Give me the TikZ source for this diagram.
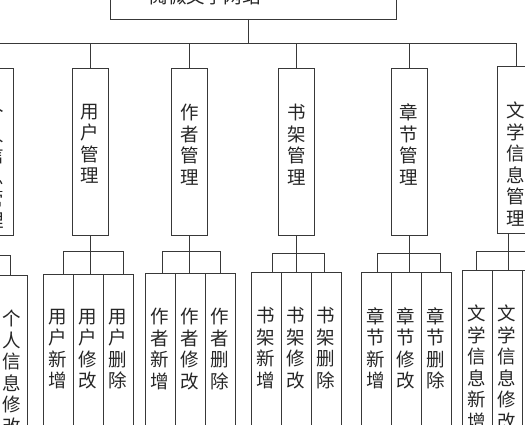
\documentclass[tikz,border=0pt]{standalone}
\usepackage{fontspec}
\newfontfamily\cjk{Noto Sans CJK SC}
\usetikzlibrary{positioning}
\tikzset
{
	link/.style     = {draw=black!78, line width=0.9pt},
	vtext/.style    = {anchor=north, inner sep=0pt, align=center, font=\cjk\fontsize{18.5}{21.5}\selectfont, text=black!85},
	rootnode/.style = {link, anchor=south, outer sep=0pt, minimum width=286pt, minimum height=60pt},
	modnode/.style  = {link, anchor=north, outer sep=0pt, minimum width=36pt, minimum height=167pt, label={[vtext, yshift=-36pt]north:#1}},
	funcnode/.style = {link, anchor=north, outer sep=0pt, minimum width=30pt, minimum height=160pt, label={[vtext, yshift=-35pt]north:#1}}
}

\begin{document}
\begin{tikzpicture}[x=1pt, y=1pt, node distance=0pt]
\useasboundingbox (0,0) rectangle (525,-425);
\clip (0,0) rectangle (525,-425);
% top: site
\node[rootnode] (root) at (253,-19) {};
\node[vtext, anchor=center] (title) at (205,4) {阅微文学网站};
% modules
\node[modnode={个\\人\\信\\息\\管\\理}] (m0) at (-5,-68) {};
\node[modnode={用\\户\\管\\理}] (m1) at (90,-68) {};
\node[modnode={作\\者\\管\\理}] (m2) at (189.5,-68) {};
\node[modnode={书\\架\\管\\理}] (m3) at (296.5,-68) {};
\node[modnode={章\\节\\管\\理}] (m4) at (409,-68) {};
\node[modnode={文\\学\\信\\息\\管\\理}, minimum width=38pt] (m5) at (516,-66) {};
\draw[link] ([xshift=-5pt]root.south) -- ++(0,-24) coordinate (bar);
\foreach \m in {m0,m1,m2,m3,m4,m5}
	\draw[link] (bar) -| (\m.north);
% functions
\node[funcnode={个\\人\\信\\息\\修\\改}] (p3) at (12,-275) {};
\node[funcnode={用\\户\\新\\增}] (u1) at (58,-274) {};
\node[funcnode={用\\户\\修\\改}, right=of u1] (u2) {};
\node[funcnode={用\\户\\删\\除}, right=of u2] (u3) {};
\node[funcnode={作\\者\\新\\增}] (a1) at (160,-273) {};
\node[funcnode={作\\者\\修\\改}, right=of a1] (a2) {};
\node[funcnode={作\\者\\删\\除}, right=of a2] (a3) {};
\node[funcnode={书\\架\\新\\增}] (s1) at (266,-272) {};
\node[funcnode={书\\架\\修\\改}, right=of s1] (s2) {};
\node[funcnode={书\\架\\删\\除}, right=of s2] (s3) {};
\node[funcnode={章\\节\\新\\增}] (c1) at (376,-272) {};
\node[funcnode={章\\节\\修\\改}, right=of c1] (c2) {};
\node[funcnode={章\\节\\删\\除}, right=of c2] (c3) {};
\node[funcnode={文\\学\\信\\息\\新\\增}] (w1) at (477,-270) {};
\node[funcnode={文\\学\\信\\息\\修\\改}, right=of w1] (w2) {};
\node[funcnode={文\\学\\信\\息\\删\\除}, right=of w2] (w3) {};
% module to functions
\draw[link] (m0.south) -- ++(0,-20) -| ([xshift=-2pt]p3.north);
\draw[link] (m1.south) -- (m1.south |- u2.north);
\draw[link] ([xshift=5pt]u1.north) -- ++(0,23) -| ([xshift=5pt]u3.north);
\draw[link] (m2.south) -- (m2.south |- a2.north);
\draw[link] ([xshift=2pt]a1.north) -- ++(0,22) -| (a3.north);
\draw[link] (m3.south) -- (m3.south |- s2.north);
\draw[link] ([xshift=6pt]s1.north) -- ++(0,19) -| ([xshift=-2pt]s3.north);
\draw[link] (m4.south) -- (m4.south |- c2.north);
\draw[link] ([xshift=1pt]c1.north) -- ++(0,19) -| ([xshift=4pt]c3.north);
\draw[link] ([xshift=-8pt]m5.south) -- ([xshift=-8pt]m5.south |- w2.north);
\draw[link] ([xshift=-1pt]w1.north) -- ++(0,19) -| (w3.north);
\end{tikzpicture}
\end{document}
